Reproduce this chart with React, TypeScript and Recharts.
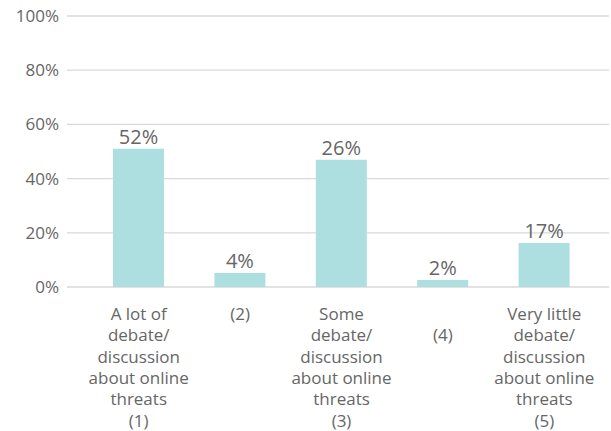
import React from "react";
import { BarChart, Bar, XAxis, YAxis, CartesianGrid, LabelList } from "recharts";

const categories: string[][] = [
  ["A lot of", "debate/", "discussion", "about online", "threats", "(1)"],
  ["(2)"],
  ["Some", "debate/", "discussion", "about online", "threats", "(3)"],
  ["", "(4)"],
  ["Very little", "debate/", "discussion", "about online", "threats", "(5)"],
];
const barValues: number[] = [51, 5.2, 47, 2.6, 16.2];
const valueLabels: string[] = ["52%", "4%", "26%", "2%", "17%"];
const yTicks: number[] = [0, 20, 40, 60, 80, 100];

const data = categories.map((c, i) => ({
  key: String(i),
  value: barValues[i],
  label: valueLabels[i],
}));

const FONT = "'Open Sans', sans-serif";
const TEXT = "#666666";

const XTick = (props: any) => {
  const { x, y, payload } = props;
  const lines = categories[Number(payload.value)] || [];
  return (
    <text x={x} y={y} textAnchor="middle" fill={TEXT} fontFamily={FONT} fontSize={17}>
      {lines.map((l, i) => (
        <tspan key={i} x={x} y={y + 25 + i * 21.3}>
          {l}
        </tspan>
      ))}
    </text>
  );
};

const ValueLabel = (props: any) => {
  const { x, y, width, index } = props;
  return (
    <text
      x={x + width / 2}
      y={y - 5}
      textAnchor="middle"
      fill={TEXT}
      fontFamily={FONT}
      fontSize={20}
    >
      {valueLabels[index]}
    </text>
  );
};

export default function App() {
  return (
    <div style={{ position: "absolute", left: 0, top: 0 }}>
      <BarChart
        width={611}
        height={431}
        data={data}
        margin={{ top: 16, right: 2, bottom: 0, left: 0 }}
      >
        <CartesianGrid horizontal vertical={false} stroke="#d9d9d9" strokeWidth={1.3} />
        <XAxis
          dataKey="key"
          height={144}
          axisLine={false}
          tickLine={false}
          interval={0}
          tick={<XTick />}
          padding={{ left: 21, right: 14 }}
        />
        <YAxis
          width={67}
          domain={[0, 100]}
          ticks={yTicks}
          axisLine={false}
          tickLine={false}
          tickFormatter={(v: number) => `${v}%`}
          tick={{ fill: TEXT, fontFamily: FONT, fontSize: 17 }}
        />
        <Bar dataKey="value" fill="#aedfe0" barSize={51} isAnimationActive={false}>
          <LabelList dataKey="label" content={<ValueLabel />} />
        </Bar>
      </BarChart>
    </div>
  );
}
